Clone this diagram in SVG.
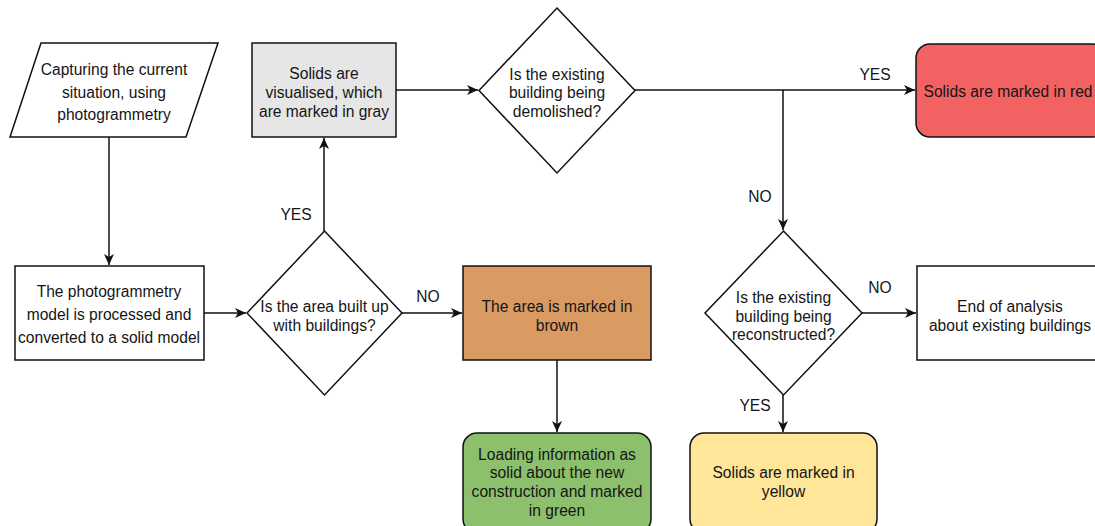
<svg xmlns="http://www.w3.org/2000/svg" width="1095" height="526" viewBox="0 0 1095 526">
<style>
.s{stroke:#111;stroke-width:1.5;}
.t{font-family:"Liberation Sans",Arial,sans-serif;font-size:15.6px;fill:#151515;text-anchor:middle;}
.c{fill:none;stroke:#111;stroke-width:1.5;}
</style>
<defs>
<marker id="a" markerUnits="userSpaceOnUse" markerWidth="12" markerHeight="10" refX="11" refY="5" orient="auto">
<path d="M0,0 L11,5 L0,10 L3,5 Z" fill="#111"/>
</marker>
</defs>
<rect width="1095" height="526" fill="#fff"/>
<g id="connectors">
<path class="c" d="M109,137 V265" marker-end="url(#a)"/>
<path class="c" d="M204,313 H246" marker-end="url(#a)"/>
<path class="c" d="M324,231 V138" marker-end="url(#a)"/>
<path class="c" d="M396,90 H478" marker-end="url(#a)"/>
<path class="c" d="M635,90 H915" marker-end="url(#a)"/>
<path class="c" d="M783,90 V230" marker-end="url(#a)"/>
<path class="c" d="M402,313 H462" marker-end="url(#a)"/>
<path class="c" d="M557,360 V432" marker-end="url(#a)"/>
<path class="c" d="M862,313 H916" marker-end="url(#a)"/>
<path class="c" d="M783,395 V432" marker-end="url(#a)"/>
<text class="t" x="296" y="220">YES</text>
<text class="t" x="875" y="80">YES</text>
<text class="t" x="760" y="202">NO</text>
<text class="t" x="428" y="302">NO</text>
<text class="t" x="880" y="293">NO</text>
<text class="t" x="755" y="411">YES</text>
</g>
<g id="capture">
<polygon class="s" points="41,43 218,43 186,137 10,137" fill="#fff"/>
<text class="t" x="114" y="75">Capturing the current</text>
<text class="t" x="114" y="98">situation, using</text>
<text class="t" x="114" y="120">photogrammetry</text>
</g>
<g id="process">
<rect class="s" x="15" y="266" width="189" height="94" fill="#fff"/>
<text class="t" x="109" y="297">The photogrammetry</text>
<text class="t" x="109" y="320">model is processed and</text>
<text class="t" x="109" y="343">converted to a solid model</text>
</g>
<g id="built">
<polygon class="s" points="324.5,231 402,313 324.5,395 247,313" fill="#fff"/>
<text class="t" x="324.5" y="312">Is the area built up</text>
<text class="t" x="324.5" y="331">with buildings?</text>
</g>
<g id="gray">
<rect class="s" x="252" y="43" width="144" height="94" fill="#e6e6e6"/>
<text class="t" x="324" y="79">Solids are</text>
<text class="t" x="324" y="98">visualised, which</text>
<text class="t" x="324" y="117">are marked in gray</text>
</g>
<g id="demolished">
<polygon class="s" points="557,8 635,90.5 557,173 479,90.5" fill="#fff"/>
<text class="t" x="557" y="80">Is the existing</text>
<text class="t" x="557" y="98">building being</text>
<text class="t" x="557" y="117">demolished?</text>
</g>
<g id="red">
<rect class="s" x="916" y="44" width="190" height="93" rx="14" fill="#f26262"/>
<text class="t" x="1008" y="97">Solids are marked in red</text>
</g>
<g id="brown">
<rect class="s" x="463" y="266" width="188" height="94" fill="#d99b62"/>
<text class="t" x="557" y="312">The area is marked in</text>
<text class="t" x="557" y="331">brown</text>
</g>
<g id="green">
<rect class="s" x="463" y="433" width="188" height="100" rx="14" fill="#8cc06c"/>
<text class="t" x="557" y="460">Loading information as</text>
<text class="t" x="557" y="478">solid about the new</text>
<text class="t" x="557" y="497">construction and marked</text>
<text class="t" x="557" y="516">in green</text>
</g>
<g id="reconstructed">
<polygon class="s" points="783.5,231 862,313 783.5,395 705,313" fill="#fff"/>
<text class="t" x="783.5" y="303">Is the existing</text>
<text class="t" x="783.5" y="322">building being</text>
<text class="t" x="783.5" y="340">reconstructed?</text>
</g>
<g id="end">
<rect class="s" x="917" y="266" width="190" height="94" fill="#fff"/>
<text class="t" x="1010" y="312">End of analysis</text>
<text class="t" x="1010" y="331">about existing buildings</text>
</g>
<g id="yellow">
<rect class="s" x="690" y="433" width="187" height="100" rx="14" fill="#ffe699"/>
<text class="t" x="783.5" y="478">Solids are marked in</text>
<text class="t" x="783.5" y="497">yellow</text>
</g>
</svg>
